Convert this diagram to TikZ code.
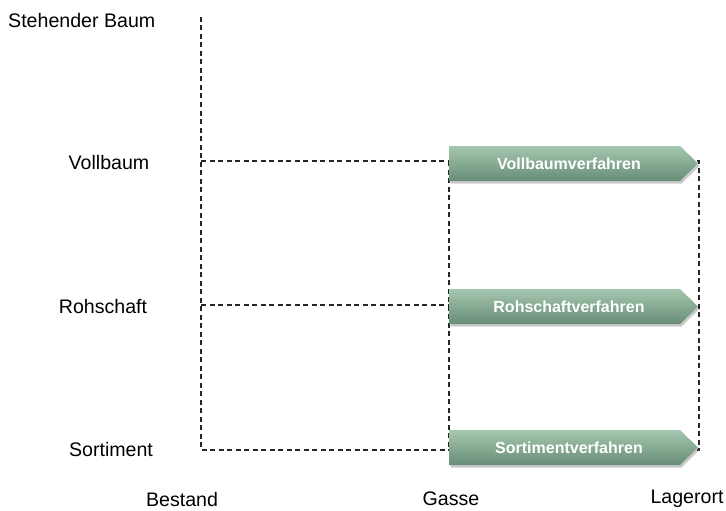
\documentclass[tikz,border=0pt]{standalone}
\usepackage{fontspec}
\setmainfont{Liberation Sans}
\usetikzlibrary{shadows}
\definecolor{arrtop}{HTML}{A6C7AF}
\definecolor{arrbot}{HTML}{678C75}
\tikzset{
  lbl/.style={font=\fontsize{19.6}{23}\selectfont, text=black, inner sep=0pt},
  conn/.style={draw=black!85, line width=1.4pt, dash pattern=on 5pt off 3.5pt},
  arrtext/.style={font=\bfseries\fontsize{16}{19}\selectfont, text=white, inner sep=0pt},
  procarrow/.style={top color=arrtop, bottom color=arrbot, draw=none,
    drop shadow={shadow xshift=1.5pt, shadow yshift=-2.5pt, opacity=0.35, fill=black!60}}
}
\begin{document}
\begin{tikzpicture}[x=1pt,y=-1pt]
\useasboundingbox (0,0) rectangle (726,511);
% labels
\node[lbl, anchor=west] (stehend) at (8,20) {Stehender Baum};
\node[lbl] (voll) at (109,162) {Vollbaum};
\node[lbl] (roh) at (103,306) {Rohschaft};
\node[lbl] (sort) at (111,449) {Sortiment};
\node[lbl] (bestand) at (182,499) {Bestand};
\node[lbl] (gasse) at (451,499) {Gasse};
\node[lbl] (lager) at (687,499) {Lagerort};
% coordinates
\coordinate (bTop) at (201,17);
\coordinate (bV) at (201,161);
\coordinate (bR) at (201,305);
\coordinate (bS) at (201,450);
\coordinate (gV) at (449,161);
\coordinate (gR) at (449,305);
\coordinate (gS) at (449,450);
\coordinate (lV0) at (697,161);
\coordinate (lV) at (699,161);
\coordinate (lS) at (699,450);
\coordinate (lS0) at (697,450);
% dashed connectors
\draw[conn] (bTop) -- (bS) -- (gS);
\draw[conn] (bV) -- (gV);
\draw[conn] (bR) -- (gR);
\draw[conn] (gV) -- (gS);
\draw[conn] (lV0) -- (lV) -- (lS) -- (lS0);
% arrows
\path[procarrow] (449,146) -- (680,146) -- (698,163.5) -- (680,181) -- (449,181) -- cycle;
\node[arrtext] (vv) at (569,163.5) {Vollbaumverfahren};
\path[procarrow] (449,289) -- (680,289) -- (698,306.5) -- (680,324) -- (449,324) -- cycle;
\node[arrtext] (rv) at (569,306.5) {Rohschaftverfahren};
\path[procarrow] (449,430) -- (680,430) -- (698,447.5) -- (680,465) -- (449,465) -- cycle;
\node[arrtext] (sv) at (569,447.5) {Sortimentverfahren};
\end{tikzpicture}
\end{document}
